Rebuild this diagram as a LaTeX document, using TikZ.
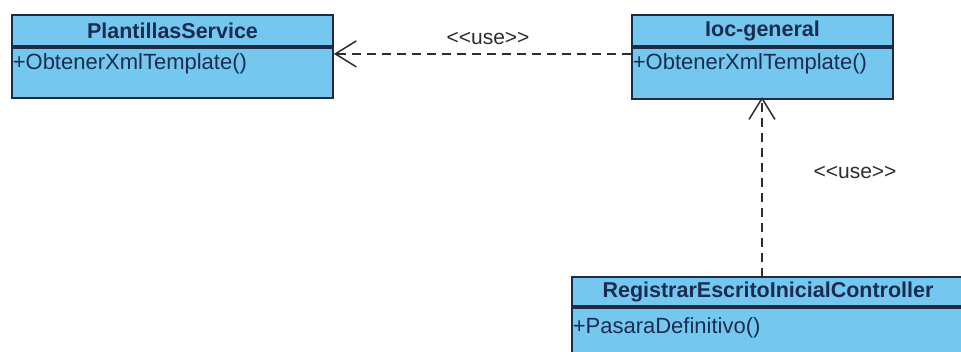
\documentclass[tikz,border=0pt]{standalone}
\usepackage{fontspec}
\setmainfont{Liberation Sans}
\usetikzlibrary{arrows.meta,calc}

\definecolor{classfill}{RGB}{116,200,240}
\definecolor{classline}{RGB}{32,42,66}
\definecolor{classtext}{RGB}{28,44,80}
\definecolor{depline}{RGB}{45,45,45}

\tikzset{
  classhead/.style={draw=classline, line width=1.8pt, fill=classfill,
    inner sep=0pt, text=classtext, font=\fontsize{21.5}{24}\selectfont\bfseries},
  classbody/.style={draw=classline, line width=1.8pt, fill=classfill, inner sep=0pt},
  member/.style={anchor=west, inner sep=0pt, text=classtext,
    font=\fontsize{22}{24}\selectfont},
  usedep/.style={draw=depline, line width=1.5pt, dash pattern=on 9pt off 6pt,
    -{Straight Barb[length=21pt,width=26pt,line width=1.5pt]}},
  stereo/.style={inner sep=0pt, text=depline, font=\fontsize{21}{24}\selectfont}
}

\begin{document}
\begin{tikzpicture}[x=1pt,y=-1pt]
\useasboundingbox (0,0) rectangle (961,352);
\fill[white] (0,0) rectangle (961,352);
\clip (0,0) rectangle (961,352);

% PlantillasService
\node[classhead, minimum width=321pt, minimum height=31pt] (ps) at (172.5,30.5) {PlantillasService};
\node[classbody, minimum width=321pt, minimum height=50pt, anchor=north] (psb) at (ps.south) {};
\node[member] (psm) at ($(psb.north west)+(1.5,17)$) {+ObtenerXmlTemplate()};

% Ioc-general
\node[classhead, minimum width=261pt, minimum height=31pt] (ioc) at (762.5,30.5) {Ioc-general};
\node[classbody, minimum width=261pt, minimum height=51pt, anchor=north] (iocb) at (ioc.south) {};
\node[member] (iocm) at ($(iocb.north west)+(1.5,17)$) {+ObtenerXmlTemplate()};

% RegistrarEscritoInicialController (runs past the right and lower edges)
\node[classhead, minimum width=392pt, minimum height=29pt] (rc) at (768,291.5) {RegistrarEscritoInicialController};
\node[classbody, minimum width=392pt, minimum height=80pt, anchor=north] (rcb) at (rc.south) {};
\node[member] (rcm) at ($(rcb.north west)+(1.5,21)$) {+PasaraDefinitivo()};

% <<use>> dependencies
\coordinate (iocleft) at ($(iocb.north west)+(0,7)$);
\coordinate (psright) at ($(psb.north east)+(0,7)$);
\draw[usedep] (iocleft) -- (psright);
\node[stereo] (use1) at (488,38) {<{}<use>{}>};

\coordinate (rctop) at (762,277);
\coordinate (iocbottom) at (762,97);
\draw[usedep] (rctop) -- (iocbottom);
\node[stereo] (use2) at (855,172) {<{}<use>{}>};
\end{tikzpicture}
\end{document}
